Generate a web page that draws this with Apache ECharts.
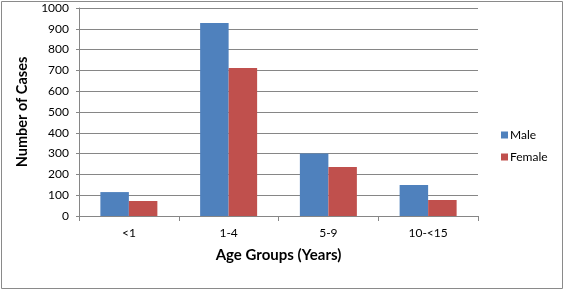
<!DOCTYPE html>
<html><head><meta charset="utf-8">
<script src="https://cdn.jsdelivr.net/npm/echarts@6/dist/echarts.min.js"></script>
<style>html,body{margin:0;padding:0;background:#fff}#c{width:569px;height:296px;}</style>
</head><body><div id="c"></div>
<script>
var categories = ['<1', '1-4', '5-9', '10-<15'];
var maleValues = [115, 928, 300, 149];
var femaleValues = [72, 712, 236, 77];
var yTicks = [0, 100, 200, 300, 400, 500, 600, 700, 800, 900, 1000];

var chart = echarts.init(document.getElementById('c'), null, {renderer: 'canvas'});
var font = 'Lato, "Open Sans", sans-serif';
chart.setOption({
  animation: false,
  backgroundColor: '#fff',
  graphic: [{type: 'rect', shape: {x: 1.5, y: 1.5, width: 561, height: 287}, style: {fill: 'none', stroke: '#8a8a8a', lineWidth: 1}}],
  grid: {left: 79, right: 91, top: 8, bottom: 80, containLabel: false},
  legend: {
    orient: 'vertical', left: 496, top: 124, itemWidth: 7, itemHeight: 7, itemGap: 10,
    icon: 'rect',
    textStyle: {fontFamily: font, fontSize: 12, color: '#000', padding: [0,0,0,-3]},
    data: ['Male', 'Female']
  },
  xAxis: {
    type: 'category', data: categories,
    axisLine: {lineStyle: {color: '#868686'}},
    axisTick: {show: true, length: 5, lineStyle: {color: '#868686'}},
    axisLabel: {fontFamily: font, fontSize: 12, color: '#000', margin: 11},
    name: 'Age Groups (Years)', nameLocation: 'middle', nameGap: 32,
    nameTextStyle: {fontFamily: font, fontSize: 15, fontWeight: 'bold', color: '#000'}
  },
  yAxis: {
    type: 'value', min: yTicks[0], max: yTicks[yTicks.length-1], interval: 100,
    axisLine: {show: true, lineStyle: {color: '#868686'}},
    axisTick: {show: true, length: 3, lineStyle: {color: '#868686'}},
    splitLine: {lineStyle: {color: '#868686'}},
    axisLabel: {fontFamily: font, fontSize: 12, color: '#000', margin: 10, formatter: function(v){return String(v);}},
    name: 'Number of Cases', nameLocation: 'middle', nameGap: 44, nameRotate: 90,
    nameTextStyle: {fontFamily: font, fontSize: 14.5, fontWeight: 'bold', color: '#000'}
  },
  series: [
    {name: 'Male', type: 'bar', data: maleValues, barWidth: 28.5, barGap: '0%', itemStyle: {color: '#4F81BD'}},
    {name: 'Female', type: 'bar', data: femaleValues, barWidth: 28.5, barGap: '0%', itemStyle: {color: '#C0504D'}}
  ]
});
</script></body></html>
